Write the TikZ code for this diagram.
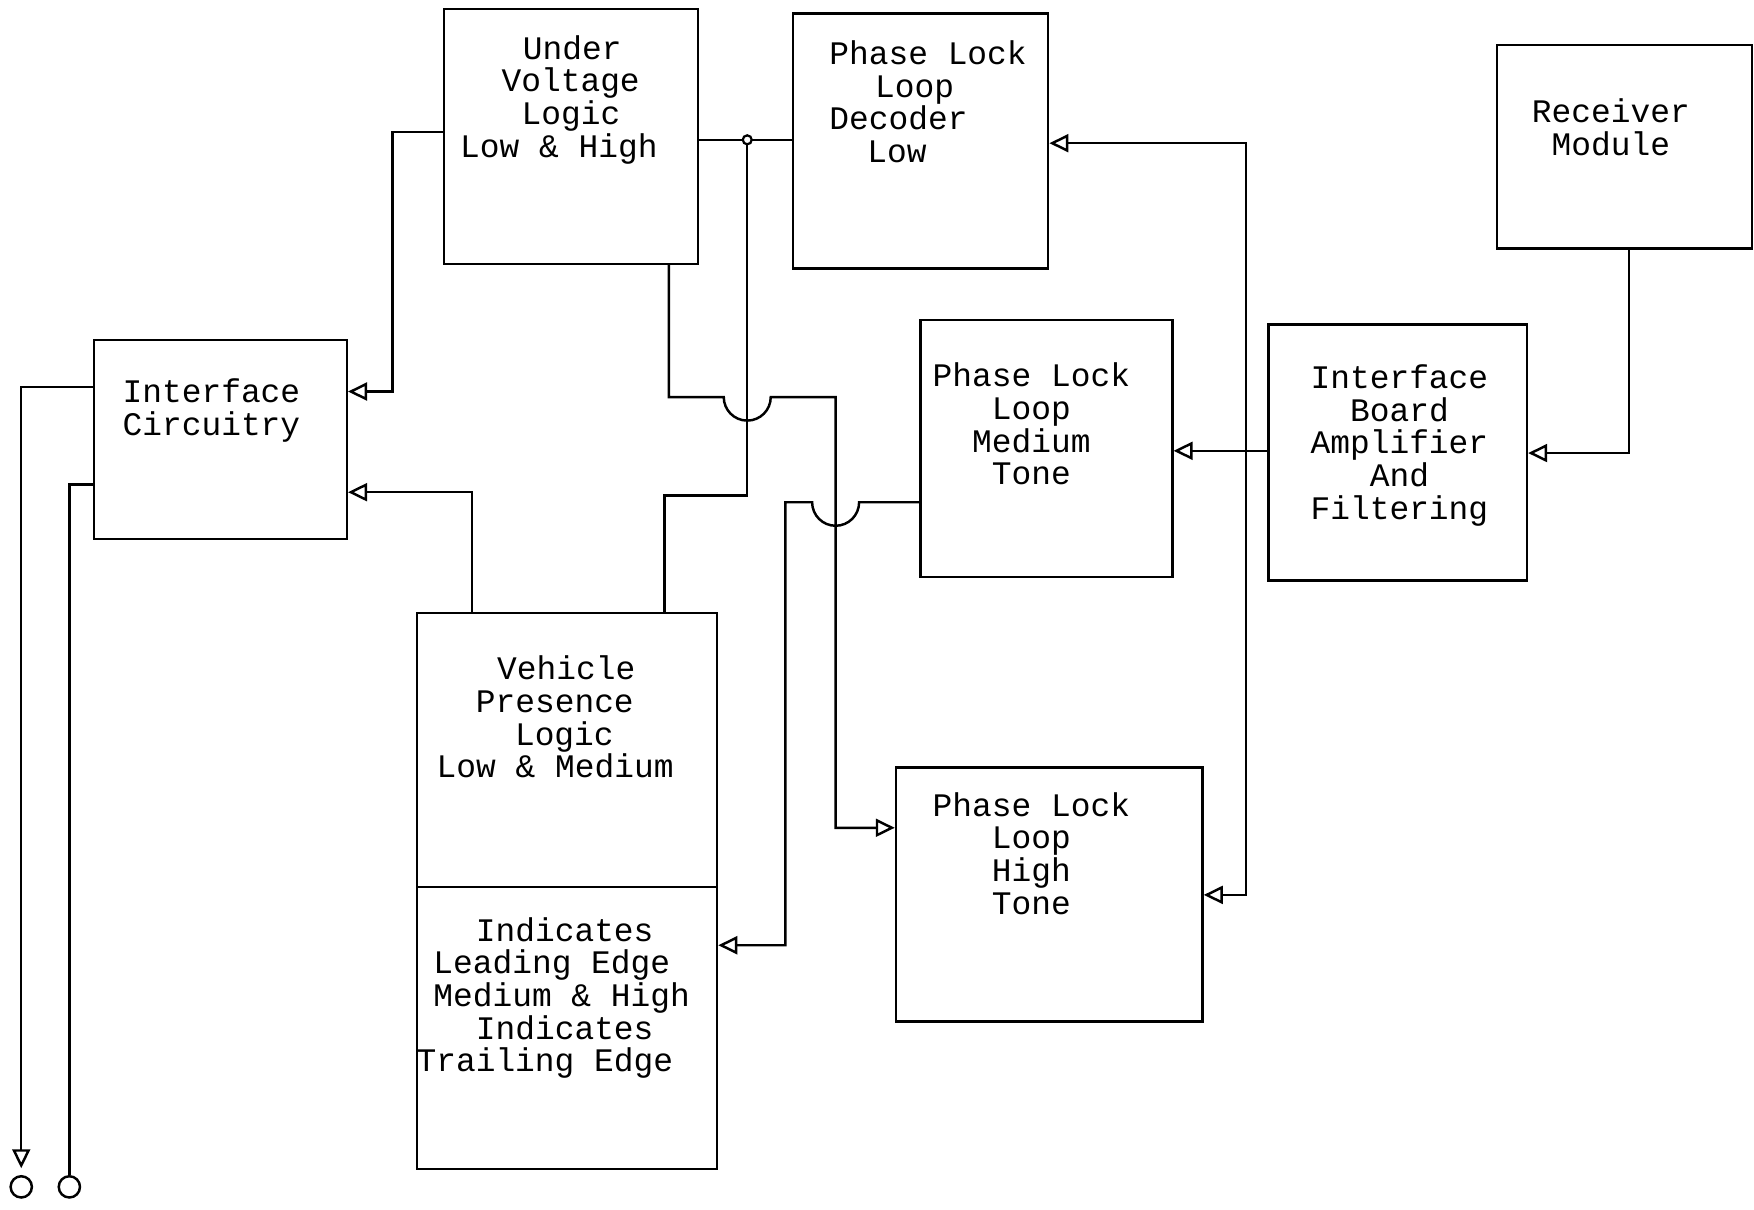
\documentclass[tikz,border=0pt]{standalone}
\usepackage{fontspec}
\setmonofont{Liberation Mono}
\usetikzlibrary{arrows.meta,fit}
\tikzset{
  box/.style={draw, line width=1.1pt, inner sep=0pt},
  lbl/.style={font=\ttfamily\fontsize{14.7}{14.6}\selectfont, align=center, inner sep=0pt},
  lbll/.style={lbl, align=left, anchor=west},
  wire/.style={line width=1.1pt},
  arr/.style={wire, -{Triangle[open, length=8.5pt, width=8pt]}},
  term/.style={circle, draw, line width=1.1pt, minimum size=9.5pt, inner sep=0pt},
  junc/.style={circle, draw, fill=white, line width=1pt, minimum size=4pt, inner sep=0pt},
}
\begin{document}
\begin{tikzpicture}[x=0.5pt, y=0.5pt]
\useasboundingbox (0,0) rectangle (1568,-1081);
% boxes
\node[box, fit={(397,-8) (624,-236)}] (uv) {};
\node[box, fit={(709,-12) (937,-240)}] (dec) {};
\node[box, fit={(1338,-40) (1566,-222)}] (rx) {};
\node[box, fit={(84,-304) (310,-482)}] (ic) {};
\node[box, fit={(823,-286) (1048,-516)}] (med) {};
\node[box, fit={(1134,-290) (1365,-519)}] (ib) {};
\node[box, fit={(373,-548) (641,-1045)}] (vp) {};
\node[box, fit={(801,-686) (1075,-913)}] (high) {};
\draw[wire] (vp.west |- 0,-793) -- (vp.east |- 0,-793);
% texts
\node[lbll] (uvt) at (411,-89) {\hspace*{28pt}Under\\\hspace*{18.5pt}Voltage\\\hspace*{27.5pt}Logic\\Low \& High};
\node[lbll] (dect) at (741,-91) {Phase Lock\\\hspace*{20.5pt}Loop\\Decoder\\\hspace*{17pt}Low};
\node[lbl] (rxt) at (1440,-114) {Receiver\\Module};
\node[lbl] (ict) at (189,-367) {Interface\\Circuitry};
\node[lbl] (medt) at (922,-379) {Phase Lock\\Loop\\Medium\\Tone};
\node[lbl] (ibt) at (1251,-398) {Interface\\Board\\Amplifier\\And\\Filtering};
\node[lbll] (vpt) at (390,-641) {\hspace*{27pt}Vehicle\\\hspace*{17.5pt}Presence\\\hspace*{35pt}Logic\\Low \& Medium};
\node[lbll] (vpt2) at (372,-892) {\hspace*{26.5pt}Indicates\\\hspace*{7.5pt}Leading Edge\\\hspace*{7.5pt}Medium \& High\\\hspace*{26.5pt}Indicates\\Trailing Edge};
\node[lbl] (hight) at (922,-763) {Phase Lock\\Loop\\High\\Tone};
% terminals
\node[term] (t1) at (19,-1061) {};
\node[term] (t2) at (62,-1061) {};
% junctions
\coordinate (j) at (668,-125);
\coordinate (jb) at (1114,-403);
% connectors
\draw[arr] (uv.west |- 0,-118) -- (351,-118) -- (351,-350) -- (ic.east |- 0,-350);
\draw[wire] (uv.east |- 0,-125) -- (j) -- (dec.west |- 0,-125);
\draw[wire] (j) -- (668,-443) -- (594,-443) -- (vp.north -| 594,0);
\draw[arr] (uv.south -| 598,0) -- (598,-355) -- (647,-355)
   arc[start angle=180, end angle=360, radius=10.5pt] -- (747,-355) -- (747,-740) -- (high.west |- 0,-740);
\draw[arr] (med.west |- 0,-449) -- (768,-449)
   arc[start angle=0, end angle=-180, radius=10.5pt] -- (702,-449) -- (702,-845) -- (vp.east |- 0,-845);
\draw[arr] (ib.west |- 0,-403) -- (med.east |- 0,-403);
\draw[arr] (rx.south -| 1456,0) -- (1456,-405) -- (ib.east |- 0,-405);
\draw[arr] (jb) -- (1114,-128) -- (dec.east |- 0,-128);
\draw[arr] (jb) -- (1114,-800) -- (high.east |- 0,-800);
\draw[arr] (vp.north -| 422,0) -- (422,-440) -- (ic.east |- 0,-440);
\draw[arr] (ic.west |- 0,-346) -- (19,-346) -- ([yshift=3pt]t1.north);
\draw[wire] (ic.west |- 0,-433) -- (62,-433) -- (t2.north);
\node[junc] (jd) at (j) {};
\end{tikzpicture}
\end{document}
